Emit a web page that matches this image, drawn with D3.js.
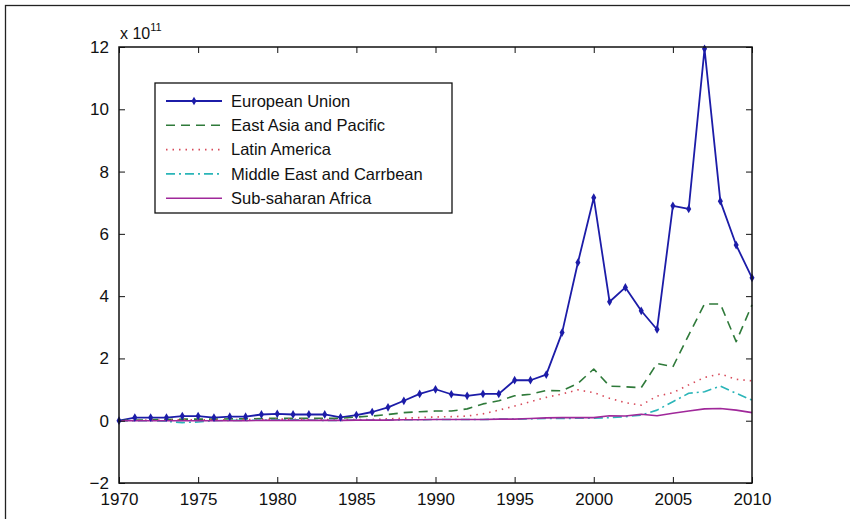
<!DOCTYPE html>
<html><head><meta charset="utf-8">
<script src="https://cdn.jsdelivr.net/npm/d3@7"></script>
<style>body{margin:0;background:#fff}svg{display:block}</style>
</head><body>
<svg id="c" width="850" height="519"></svg>
<script>
const years = d3.range(1970, 2011);
const seriesNames = ["European Union","East Asia and Pacific","Latin America","Middle East and Carrbean","Sub-saharan Africa"];
// values in units of 1e11
const euroUnion = [0.00,0.10,0.10,0.10,0.15,0.15,0.10,0.13,0.13,0.20,0.22,0.20,0.20,0.20,0.11,0.18,0.28,0.43,0.64,0.86,1.01,0.85,0.80,0.86,0.86,1.30,1.30,1.48,2.83,5.08,7.16,3.82,4.28,3.53,2.93,6.90,6.80,11.94,7.05,5.64,4.59];
const eastAsia = [0.00,0.02,0.03,0.04,0.05,0.05,0.05,0.06,0.06,0.07,0.08,0.08,0.08,0.08,0.08,0.12,0.15,0.20,0.26,0.29,0.31,0.31,0.38,0.54,0.64,0.80,0.85,0.97,0.96,1.20,1.66,1.11,1.09,1.06,1.84,1.73,2.75,3.75,3.75,2.54,3.72];
const latinAmerica = [0.00,0.01,0.02,0.02,0.03,0.03,0.03,0.03,0.04,0.04,0.05,0.05,0.04,0.04,0.04,0.04,0.04,0.06,0.08,0.10,0.12,0.13,0.15,0.22,0.34,0.47,0.61,0.75,0.86,0.99,0.90,0.72,0.58,0.50,0.79,0.90,1.15,1.39,1.50,1.33,1.28];
const middleEast = [0.00,0.00,0.00,-0.02,-0.06,-0.04,0.00,0.01,0.01,0.02,0.03,0.03,0.02,0.01,0.01,0.02,0.02,0.02,0.03,0.03,0.04,0.04,0.04,0.04,0.05,0.05,0.06,0.07,0.07,0.08,0.08,0.10,0.13,0.18,0.34,0.61,0.88,0.93,1.11,0.88,0.66];
const subSaharan = [0.00,0.00,0.00,0.00,0.00,0.00,0.00,0.00,0.00,0.01,0.01,0.01,0.01,0.01,0.01,0.02,0.02,0.02,0.03,0.03,0.04,0.04,0.04,0.04,0.05,0.05,0.07,0.09,0.10,0.10,0.10,0.16,0.15,0.21,0.16,0.24,0.31,0.38,0.39,0.34,0.26];
const xTicks = [1970,1975,1980,1985,1990,1995,2000,2005,2010];
const yTicks = [-2,0,2,4,6,8,10,12];

const seriesData = [euroUnion, eastAsia, latinAmerica, middleEast, subSaharan];
const styles = [
  {color:"#1c1ca8", dash:null, w:1.8, marker:true},
  {color:"#2f7a3a", dash:"9,6", w:1.6},
  {color:"#d84a5a", dash:"1.5,5", w:1.6},
  {color:"#2ab5b8", dash:"9,4,2,4", w:1.6},
  {color:"#a0289a", dash:null, w:1.6}
];

const svg = d3.select("#c");
const L=119, R=752, T=47, B=483;
const x = d3.scaleLinear().domain([1970,2010]).range([L,R]);
const y = d3.scaleLinear().domain([-2,12]).range([B,T]);
const font = "Liberation Sans, Arial, sans-serif";

// outer frame
svg.append("rect").attr("x",5.5).attr("y",5.5).attr("width",900).attr("height",600)
  .attr("fill","none").attr("stroke","#222").attr("stroke-width",1.3);

// lines
const line = d3.line().x((d,i)=>x(years[i])).y(d=>y(d));
const plot = svg.append("g");
seriesData.forEach((s,k)=>{
  const st = styles[k];
  plot.append("path").datum(s).attr("d",line).attr("fill","none")
    .attr("stroke",st.color).attr("stroke-width",st.w)
    .attr("stroke-dasharray",st.dash).attr("stroke-linejoin","round");
});
// EU markers
const diamond = d3.symbol().type(d3.symbolDiamond).size(22);
plot.selectAll("path.mk").data(euroUnion).join("path").attr("class","mk")
  .attr("d",diamond).attr("transform",(d,i)=>`translate(${x(years[i])},${y(d)})`)
  .attr("fill",styles[0].color);

// axes (box with inward ticks)
const tickLen = -6;
const axStyle = g=>{g.select(".domain").remove();g.selectAll("line").attr("stroke","#111");g.selectAll("text").attr("font-family",font).attr("font-size",17).attr("fill","#111");};
svg.append("g").attr("transform",`translate(0,${B})`)
  .call(d3.axisBottom(x).tickValues(xTicks).tickFormat(d3.format("d")).tickSize(tickLen).tickPadding(10))
  .call(axStyle);
svg.append("g").attr("transform",`translate(0,${T})`)
  .call(d3.axisTop(x).tickValues(xTicks).tickFormat("").tickSize(tickLen)).call(axStyle);
svg.append("g").attr("transform",`translate(${L},0)`)
  .call(d3.axisLeft(y).tickValues(yTicks).tickFormat(d3.format("d")).tickSize(tickLen).tickPadding(10))
  .call(axStyle);
svg.append("g").attr("transform",`translate(${R},0)`)
  .call(d3.axisRight(y).tickValues(yTicks).tickFormat("").tickSize(tickLen)).call(axStyle);
svg.append("rect").attr("x",L).attr("y",T).attr("width",R-L).attr("height",B-T)
  .attr("fill","none").attr("stroke","#111").attr("stroke-width",1.5);

// exponent label
const ex = svg.append("text").attr("x",120).attr("y",39).attr("font-family",font).attr("font-size",16).attr("fill","#111");
ex.append("tspan").text("x 10");
ex.append("tspan").attr("dy",-8).attr("font-size",11).text("11");

// legend
const lg = svg.append("g");
lg.append("rect").attr("x",155).attr("y",83).attr("width",297).attr("height",130)
  .attr("fill","#fff").attr("stroke","#111").attr("stroke-width",1.3);
seriesNames.forEach((n,k)=>{
  const yy = 101 + k*24.3;
  const st = styles[k];
  lg.append("line").attr("x1",166).attr("x2",222).attr("y1",yy).attr("y2",yy)
    .attr("stroke",st.color).attr("stroke-width",st.w).attr("stroke-dasharray",st.dash);
  if(st.marker) lg.append("path").attr("d",diamond).attr("transform",`translate(194,${yy})`).attr("fill",st.color);
  lg.append("text").attr("x",231).attr("y",yy).attr("dy","0.35em").attr("font-family",font)
    .attr("font-size",16.5).attr("fill","#111").text(n);
});
</script>
</body></html>
